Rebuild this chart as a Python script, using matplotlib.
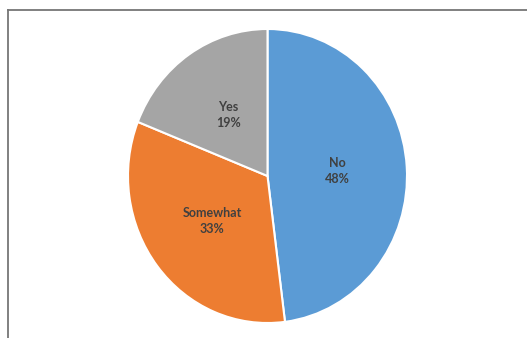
import matplotlib.pyplot as plt
from matplotlib.lines import Line2D

labels = ['No', 'Somewhat', 'Yes']
values = [48, 33, 19]
colors = ['#5B9BD5', '#ED7D31', '#A5A5A5']

W, H = 527, 338
fig = plt.figure(figsize=(W / 100, H / 100), dpi=100)

# pie box in pixels (slightly wider than tall, as in the picture)
left, right, top, bottom = 128, 407, 29, 323
ax = fig.add_axes([left / W, 1 - bottom / H, (right - left) / W, (bottom - top) / H])

wedges, texts = ax.pie(values, colors=colors, startangle=90, counterclock=False,
                       wedgeprops=dict(edgecolor='white', linewidth=1.5))
ax.set_aspect('auto')
ax.set_xlim(-1, 1)
ax.set_ylim(-1, 1)

total = sum(values)
for w, lab, v in zip(wedges, labels, values):
    import math
    ang = math.radians((w.theta1 + w.theta2) / 2)
    r = 0.5
    ax.text(r * math.cos(ang), r * math.sin(ang), '%s\n%d%%' % (lab, round(100 * v / total)),
            ha='center', va='center', fontsize=9, fontweight='bold', family='Lato',
            color='#404040', linespacing=1.4)

# chart border (only top and left visible in the crop)
fig.add_artist(Line2D([7.5 / W, 7.5 / W], [0, 1 - 9.5 / H], transform=fig.transFigure,
                      color='#767676', lw=1.3))
fig.add_artist(Line2D([7.5 / W, 1], [1 - 9.5 / H, 1 - 9.5 / H], transform=fig.transFigure,
                      color='#767676', lw=1.3))

fig.savefig('out.png', dpi=100)
